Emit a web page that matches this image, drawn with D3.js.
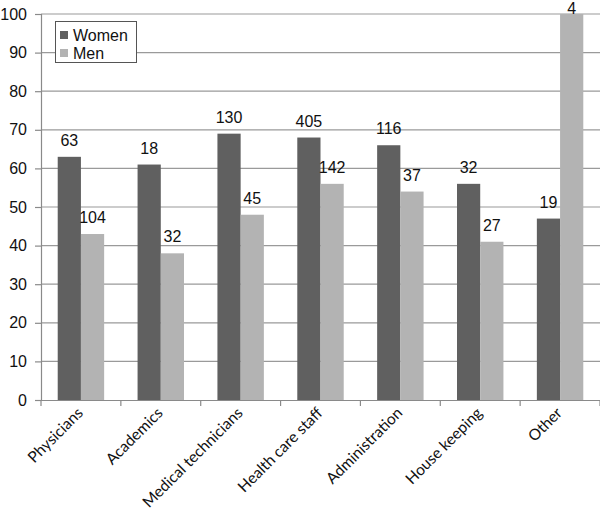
<!DOCTYPE html>
<html><head><meta charset="utf-8">
<script src="https://cdn.jsdelivr.net/npm/d3@7"></script>
<style>body{margin:0;background:#fff}</style>
</head><body>
<svg id="c" width="600" height="516"></svg>
<script>
const categories = ["Physicians","Academics","Medical technicians","Health care staff","Administration","House keeping","Other"];
const women = [63,61,69,68,66,56,47];
const men = [43,38,48,56,54,41,100];
const womenLabels = ["63","18","130","405","116","32","19"];
const menLabels = ["104","32","45","142","37","27","4"];
const yTicks = [0,10,20,30,40,50,60,70,80,90,100];
const seriesNames = ["Women","Men"];
const colors = ["#606060","#b3b3b3"];

(function(){
const svg = d3.select("#c");
const mLeft = 41, mRight = 600, mTop = 14, mBottom = 400;
const x = d3.scaleBand().domain(categories).range([mLeft, mRight]).paddingInner(0).paddingOuter(0);
const y = d3.scaleLinear().domain([0,100]).range([mBottom, mTop]);
const inner = d3.scaleBand().domain(seriesNames).range([0, x.bandwidth()]).paddingInner(0).paddingOuter(0.72);

// gridlines
svg.append("g").selectAll("line").data(yTicks.filter(d=>d>0)).join("line")
  .attr("x1", mLeft).attr("x2", mRight).attr("y1", d=>y(d)).attr("y2", d=>y(d))
  .attr("stroke", "#9a9a9a").attr("stroke-width", 1.2);

// y axis
const yAxis = d3.axisLeft(y).tickValues(yTicks).tickSize(6).tickPadding(8);
const gy = svg.append("g").attr("transform", `translate(${mLeft},0)`).call(yAxis);
gy.select(".domain").attr("stroke", "#8a8a8a").attr("stroke-width", 1.2);
gy.selectAll(".tick line").attr("stroke", "#8a8a8a").attr("stroke-width", 1.2);
gy.selectAll("text").attr("font-family", "Liberation Sans, Arial, sans-serif").attr("font-size", 16).attr("fill", "#111");

// bars
const data = [women, men];
const labels = [womenLabels, menLabels];
data.forEach((vals, si) => {
  const g = svg.append("g");
  g.selectAll("rect").data(vals).join("rect")
    .attr("x", (d,i)=>x(categories[i]) + inner(seriesNames[si]))
    .attr("width", inner.bandwidth())
    .attr("y", d=>y(d)).attr("height", d=>mBottom - y(d))
    .attr("fill", colors[si]);
  g.selectAll("text").data(vals).join("text")
    .attr("x", (d,i)=>x(categories[i]) + inner(seriesNames[si]) + inner.bandwidth()/2)
    .attr("y", d=>Math.max(y(d) - 11, 14))
    .attr("text-anchor", "middle")
    .attr("font-family", "Liberation Sans, Arial, sans-serif").attr("font-size", 16).attr("fill", "#111")
    .text((d,i)=>labels[si][i]);
});

// x axis
const xAxis = d3.axisBottom(x).tickSize(0).tickFormat("");
const gx = svg.append("g").attr("transform", `translate(0,${mBottom})`).call(xAxis);
gx.select(".domain").attr("stroke", "#8a8a8a").attr("stroke-width", 1.2);
const bounds = categories.map(c=>x(c)).concat([mRight]);
svg.append("g").selectAll("line").data(bounds).join("line")
  .attr("x1", d=>d).attr("x2", d=>d).attr("y1", mBottom).attr("y2", mBottom+6)
  .attr("stroke", "#8a8a8a").attr("stroke-width", 1.2);
svg.append("g").selectAll("text").data(categories).join("text")
  .attr("transform", d=>`translate(${x(d)+x.bandwidth()/2+3},${mBottom+14}) rotate(-45)`)
  .attr("text-anchor", "end")
  .attr("font-family", "Lato, sans-serif").attr("font-size", 15.5).attr("fill", "#111")
  .text(d=>d);

// legend
const lg = svg.append("g");
lg.append("rect").attr("x", 55.5).attr("y", 21.5).attr("width", 81).attr("height", 41)
  .attr("fill", "#fff").attr("stroke", "#555").attr("stroke-width", 1);
seriesNames.forEach((n, i) => {
  lg.append("rect").attr("x", 60).attr("y", 31 + i*18).attr("width", 8).attr("height", 8).attr("fill", colors[i]);
  lg.append("text").attr("x", 73).attr("y", 41 + i*18).text(n)
    .attr("font-family", "Liberation Sans, Arial, sans-serif").attr("font-size", 16).attr("fill", "#111");
});
})();
</script>
</body></html>
